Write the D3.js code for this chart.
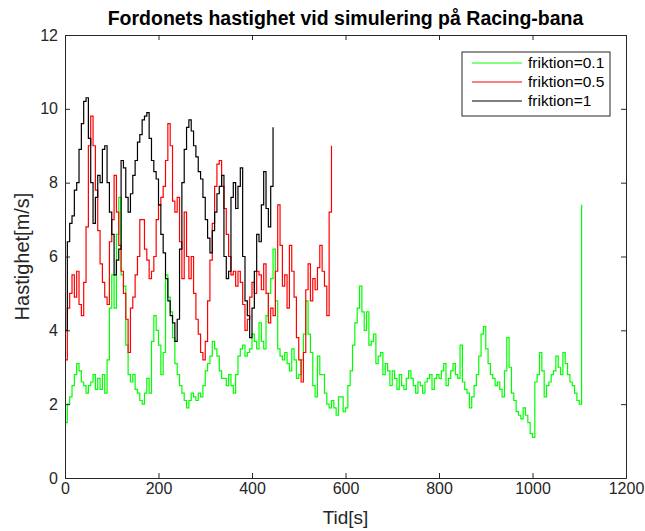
<!DOCTYPE html>
<html>
<head>
<meta charset="utf-8">
<script src="https://cdn.jsdelivr.net/npm/d3@7"></script>
<style>
  body { margin: 0; background: #fff; }
  text { font-family: "Liberation Sans", Arial, sans-serif; }
</style>
</head>
<body>
<div id="chart"></div>
<script>

// tid-steg mellan mätpunkter [s]
const step = 5;

const seriesNames = ["friktion=0.1", "friktion=0.5", "friktion=1"];
const seriesColors = ["#00ff00", "#ff0000", "#000000"];

// friktion = 0.1  (t = 0..1105)
const v01 = [
  1.5, 2.0, 2.2, 2.5, 2.8, 3.1, 2.9, 2.6, 2.5, 2.3, 2.5, 2.6, 2.8, 2.4, 2.7, 2.4, 2.8, 2.3, 3.2, 4.6,
  5.5, 4.6, 6.6, 7.6, 5.5, 5.2, 3.6, 2.8, 2.6, 2.8, 2.4, 2.3, 2.1, 2.0, 2.3, 2.7, 2.3, 3.7, 4.4, 4.0,
  3.6, 2.8, 3.4, 5.5, 4.9, 4.5, 3.8, 3.1, 2.8, 2.5, 2.3, 2.1, 1.9, 2.1, 2.3, 2.2, 2.1, 2.3, 2.2, 2.5,
  2.9, 3.1, 3.3, 3.7, 3.5, 3.3, 2.9, 2.7, 2.7, 2.5, 2.8, 2.5, 2.3, 2.8, 3.3, 3.5, 3.6, 3.3, 3.4, 3.5,
  3.9, 3.7, 3.5, 4.2, 3.7, 3.5, 4.4, 5.0, 5.4, 6.2, 4.8, 3.5, 3.3, 3.2, 3.4, 3.1, 2.9, 3.5, 3.2, 2.7,
  2.8, 3.2, 3.9, 4.8, 3.9, 3.4, 2.5, 2.2, 3.3, 2.8, 2.8, 2.3, 2.0, 1.9, 2.1, 1.9, 1.7, 2.2, 2.2, 1.8,
  1.9, 2.5, 2.9, 3.6, 4.2, 4.6, 5.2, 4.5, 4.0, 4.5, 3.6, 3.7, 3.9, 3.1, 3.3, 3.4, 2.8, 3.1, 2.9, 2.5,
  2.9, 2.7, 2.4, 2.8, 2.5, 2.4, 2.7, 2.9, 2.7, 2.5, 2.3, 2.6, 2.5, 2.3, 2.6, 2.7, 2.8, 2.4, 2.7, 2.8,
  2.7, 2.9, 3.1, 2.5, 2.7, 2.9, 3.1, 2.8, 2.7, 3.6, 2.6, 2.4, 2.3, 1.9, 2.2, 2.5, 2.8, 3.3, 3.9, 4.1,
  3.5, 3.1, 2.8, 2.7, 2.5, 2.6, 2.4, 2.2, 2.9, 3.8, 3.0, 2.3, 2.1, 1.8, 1.7, 1.6, 1.9, 1.7, 1.5, 1.2,
  1.1, 2.6, 2.8, 3.4, 2.9, 2.2, 2.5, 2.6, 2.8, 2.9, 3.3, 3.0, 2.8, 3.4, 3.1, 2.8, 2.6, 2.5, 2.3, 2.1,
  2.0, 7.4
];

// friktion = 0.5  (t = 0..570)
const v05 = [
  3.2, 4.6, 5.0, 5.5, 4.9, 5.6, 4.7, 4.4, 5.3, 6.8, 9.0, 9.8, 9.0, 7.8, 6.7, 5.8, 5.3, 4.9, 4.7, 6.4,
  7.0, 8.2, 7.2, 6.3, 5.6, 5.0, 4.3, 3.4, 4.6, 4.9, 5.5, 6.0, 7.0, 7.0, 6.2, 5.9, 5.4, 5.6, 6.0, 7.0,
  7.4, 7.6, 7.9, 8.6, 9.6, 9.0, 7.5, 7.2, 7.6, 6.4, 5.4, 7.2, 6.0, 5.4, 6.0, 5.0, 4.3, 3.9, 3.4, 3.2,
  3.7, 4.8, 5.9, 6.9, 7.9, 8.5, 8.6, 7.9, 7.3, 6.6, 6.0, 5.5, 5.6, 5.2, 5.6, 5.3, 4.7, 4.0, 4.3, 4.9,
  5.3, 5.0, 5.6, 5.5, 5.1, 5.8, 5.0, 4.2, 4.6, 4.4, 5.6, 7.4, 6.3, 5.2, 5.5, 4.6, 6.3, 5.6, 4.9, 3.8,
  3.2, 2.6, 3.4, 5.1, 5.8, 4.8, 5.4, 5.1, 5.7, 6.3, 5.6, 5.2, 4.4, 7.2, 9.0
];

// friktion = 1  (t = 0..445)
const v1 = [
  4.0, 6.4, 6.9, 7.1, 7.8, 8.0, 8.9, 9.6, 10.2, 10.3, 9.2, 8.0, 6.9, 7.6, 8.2, 8.0, 8.9, 9.0, 8.0, 7.2,
  6.6, 5.5, 5.9, 6.2, 8.6, 8.4, 7.6, 7.2, 7.7, 8.2, 8.6, 9.1, 9.3, 9.7, 9.8, 9.9, 9.2, 8.6, 8.3, 8.1,
  7.4, 6.6, 6.1, 5.4, 4.8, 4.4, 4.2, 3.7, 4.3, 6.2, 8.0, 8.9, 9.5, 9.7, 9.4, 9.0, 8.7, 8.3, 8.1, 7.6,
  7.0, 6.5, 6.1, 6.7, 7.2, 7.7, 7.9, 8.2, 6.0, 5.4, 5.6, 7.6, 8.0, 7.3, 7.9, 8.4, 6.0, 4.8, 4.4, 3.8,
  4.6, 5.6, 6.6, 6.4, 7.4, 8.3, 7.3, 6.8, 7.9, 9.5
];

const xTicks = [0, 200, 400, 600, 800, 1000, 1200];
const yTicks = [0, 2, 4, 6, 8, 10, 12];

const W = 645, H = 531;
const m = {left: 65, right: 19, top: 35, bottom: 53};

let svg = d3.select('#chart').append('svg')
    .attr('width', W)
    .attr('height', H);

svg.append('rect').attr('width', W).attr('height', H).attr('fill', '#fff');

let x = d3.scaleLinear().domain([0, 1200]).range([m.left, W - m.right]);
let y = d3.scaleLinear().domain([0, 12]).range([H - m.bottom, m.top]);

const axisColor = '#262626';

// linjer först, axlarna ovanpå
const data = [v01, v05, v1];
let line = d3.line()
    .x((d, i) => x(i * step))
    .y(d => y(d))
    .curve(d3.curveStepAfter);

svg.append('g')
  .selectAll('path')
  .data(data)
  .join('path')
    .attr('d', d => line(d))
    .attr('fill', 'none')
    .attr('stroke', (d, i) => seriesColors[i])
    .attr('stroke-width', 1.2);

function styleAxis(g) {
  g.selectAll('.domain').attr('stroke', axisColor);
  g.selectAll('.tick line').attr('stroke', axisColor);
  g.selectAll('text')
    .attr('fill', axisColor)
    .style('font-size', '16px')
    .style('font-family', '"Liberation Sans", Arial, sans-serif');
}

svg.append('g')
    .attr('transform', `translate(0,${H - m.bottom})`)
    .call(d3.axisBottom(x).tickValues(xTicks).tickFormat(d3.format('d'))
      .tickSizeInner(-5).tickSizeOuter(0).tickPadding(5))
    .call(styleAxis);

svg.append('g')
    .attr('transform', `translate(0,${m.top})`)
    .call(d3.axisTop(x).tickValues(xTicks).tickSizeInner(-5).tickSizeOuter(0).tickFormat(''))
    .call(styleAxis);

svg.append('g')
    .attr('transform', `translate(${m.left},0)`)
    .call(d3.axisLeft(y).tickValues(yTicks).tickSizeInner(-5).tickSizeOuter(0).tickPadding(7))
    .call(styleAxis);

svg.append('g')
    .attr('transform', `translate(${W - m.right},0)`)
    .call(d3.axisRight(y).tickValues(yTicks).tickSizeInner(-5).tickSizeOuter(0).tickFormat(''))
    .call(styleAxis);

// titel och axeltexter
svg.append('text')
    .attr('x', (x(0) + x(1200)) / 2)
    .attr('y', 25)
    .attr('text-anchor', 'middle')
    .style('font-size', '19.5px')
    .style('font-weight', 'bold')
    .attr('fill', '#000')
    .text('Fordonets hastighet vid simulering på Racing-bana');

svg.append('text')
    .attr('x', (x(0) + x(1200)) / 2)
    .attr('y', 524)
    .attr('text-anchor', 'middle')
    .style('font-size', '19px')
    .attr('fill', axisColor)
    .text('Tid[s]');

svg.append('text')
    .attr('transform', `translate(29,${(y(0) + y(12)) / 2}) rotate(-90)`)
    .attr('text-anchor', 'middle')
    .style('font-size', '20px')
    .attr('fill', axisColor)
    .text('Hastighet[m/s]');

// legend
let legend = svg.append('g').attr('transform', 'translate(462,52)');
legend.append('rect')
    .attr('width', 148).attr('height', 64)
    .attr('fill', '#fff').attr('stroke', axisColor);

let items = legend.selectAll('g.item')
  .data(seriesNames)
  .join('g')
    .attr('class', 'item')
    .attr('transform', (d, i) => `translate(0,${11 + i * 19})`);

items.append('line')
    .attr('x1', 10).attr('x2', 60)
    .attr('stroke', (d, i) => seriesColors[i])
    .attr('stroke-width', 1.2);

items.append('text')
    .attr('x', 66).attr('dy', '0.35em')
    .style('font-size', '15.5px')
    .attr('fill', '#000')
    .text(d => d);

</script>
</body>
</html>
